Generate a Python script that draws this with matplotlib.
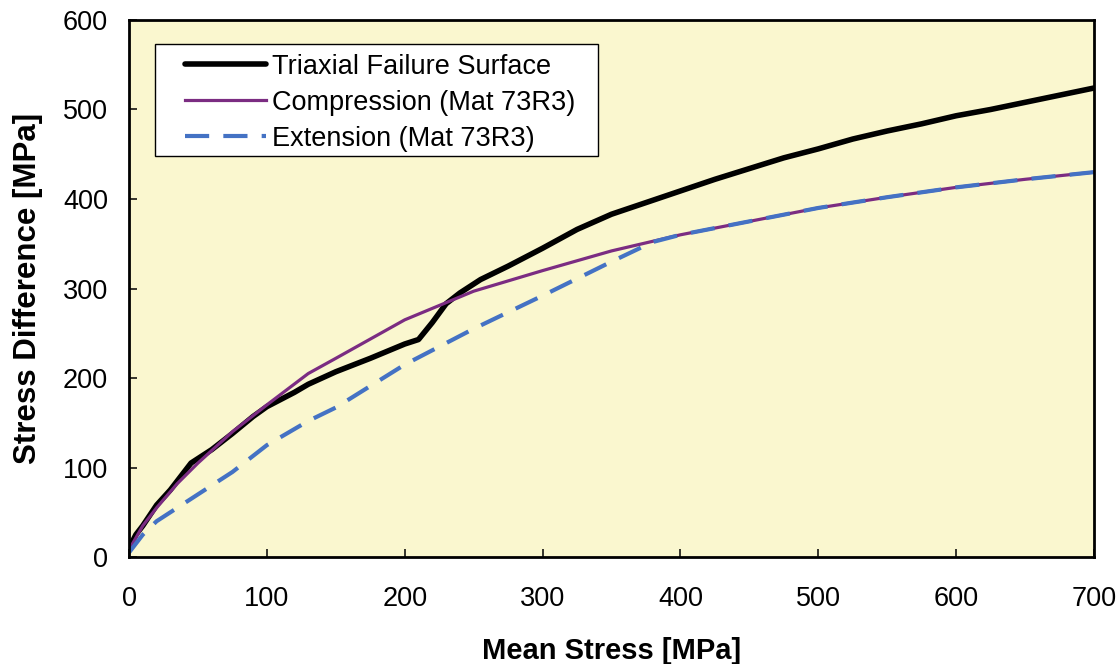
import matplotlib.pyplot as plt
from matplotlib.patches import Rectangle

plt.rcParams['font.family'] = ['Liberation Sans', 'DejaVu Sans']

# Triaxial failure surface
tx_mean = [0, 5, 10, 20, 30, 45, 60, 75, 90, 100, 120, 130, 150, 175, 200, 210, 220, 230, 240,
           255, 275, 300, 325, 350, 375, 400, 425, 450, 475, 500, 525, 550, 575, 600, 625, 650, 675, 700]
tx_diff = [10, 25, 35, 58, 75, 105, 120, 138, 157, 168, 184, 193, 207, 222, 238, 243, 262, 283, 295,
           310, 325, 345, 366, 383, 396, 409, 422, 434, 446, 456, 467, 476, 484, 493, 500, 508, 516, 524]

# Compression (Mat 73R3)
comp_mean = [0, 10, 20, 35, 50, 75, 100, 130, 150, 200, 250, 300, 350, 400, 450, 500, 550, 600, 650, 700]
comp_diff = [8, 35, 55, 82, 105, 140, 170, 205, 222, 265, 297, 320, 342, 360, 375, 390, 402, 413, 422, 430]

# Extension (Mat 73R3)
ext_mean = [0, 10, 20, 35, 50, 75, 100, 130, 150, 200, 250, 300, 350, 380, 400, 450, 500, 550, 600, 650, 700]
ext_diff = [5, 25, 40, 55, 70, 95, 125, 152, 167, 215, 255, 292, 330, 352, 360, 375, 390, 402, 413, 422, 430]

fig = plt.figure(figsize=(11.2, 6.64), dpi=100)
ax = fig.add_axes([0.1152, 0.1611, 0.8616, 0.8088])
ax.set_facecolor('#FAF7CF')

ax.plot(tx_mean, tx_diff, color='black', lw=4, solid_capstyle='round', label='Triaxial Failure Surface')
ax.plot(comp_mean, comp_diff, color='#7B2C82', lw=2.3, label='Compression (Mat 73R3)')
ax.plot(ext_mean, ext_diff, color='#4472C4', lw=3, dashes=(5.8, 3.4), label='Extension (Mat 73R3)')

ax.set_xlim(0, 700)
ax.set_ylim(0, 600)
ax.set_xticks(range(0, 701, 100))
ax.set_yticks(range(0, 601, 100))
ax.tick_params(direction='in', length=6, width=1.1, labelsize=19.5)
ax.tick_params(axis='x', pad=21)
ax.tick_params(axis='y', pad=15)
for s in ax.spines.values():
    s.set_linewidth(2)

ax.set_xlabel('Mean Stress [MPa]', fontsize=21, fontweight='bold', labelpad=18)
ax.set_ylabel('Stress Difference [MPa]', fontsize=22.5, fontweight='bold', labelpad=14)

# legend box drawn separately (Excel-like wide frame)
ax.add_patch(Rectangle((0.0269, 0.7467), 0.459, 0.2086, transform=ax.transAxes,
                       facecolor='white', edgecolor='black', lw=1.0, zorder=4))
leg = ax.legend(loc='upper left', bbox_to_anchor=(0.058, 0.937), fontsize=19.5, frameon=False,
                handlelength=3.0, borderpad=0, borderaxespad=0,
                labelspacing=0.37, handletextpad=0.2)
leg.set_zorder(5)

plt.savefig('out.png', dpi=100)
